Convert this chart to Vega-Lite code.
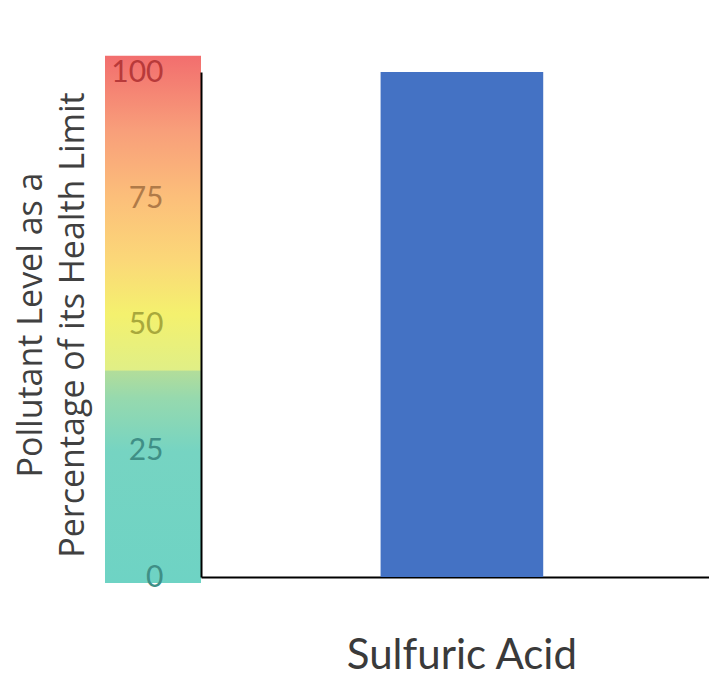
{
  "$schema": "https://vega.github.io/schema/vega-lite/v6.json",
  "background": "white",
  "padding": {"left": 13, "top": 55, "right": 0, "bottom": 0},
  "spacing": 0,
  "config": {
    "view": {"stroke": null},
    "font": "Lato",
    "axis": {"grid": false, "labelFont": "Lato", "titleFont": "Open Sans"}
  },
  "datasets": {
    "band": [{"lo": -1.2, "hi": 103.2}],
    "pollutants": [{"name": "Sulfuric Acid", "pct": 100}]
  },
  "hconcat": [
    {
      "width": 96,
      "height": 505,
      "data": {"name": "band"},
      "mark": {
        "type": "rect",
        "color": {
          "gradient": "linear",
          "x1": 0, "y1": 1, "x2": 0, "y2": 0,
          "stops": [
            {"offset": 0, "color": "#6ed3c4"},
            {"offset": 0.25, "color": "#76d4c2"},
            {"offset": 0.35, "color": "#96d9ae"},
            {"offset": 0.402, "color": "#b2dd9a"},
            {"offset": 0.404, "color": "#e0ef86"},
            {"offset": 0.51, "color": "#f4f16e"},
            {"offset": 0.61, "color": "#fbd878"},
            {"offset": 0.73, "color": "#fcbf7a"},
            {"offset": 0.86, "color": "#f89e7a"},
            {"offset": 1, "color": "#f26e6e"}
          ]
        }
      },
      "encoding": {
        "y": {
          "field": "lo",
          "type": "quantitative",
          "scale": {"domain": [0, 100], "nice": false},
          "axis": {
            "orient": "left",
            "zindex": 1,
            "values": [0, 25, 50, 75, 100],
            "domain": false,
            "ticks": false,
            "labelAlign": "right",
            "labelPadding": -58,
            "labelFontSize": 30,
            "labelColor": {
              "condition": [
                {"test": "datum.value == 100", "value": "#b83a3a"},
                {"test": "datum.value == 75", "value": "#b07a48"},
                {"test": "datum.value == 50", "value": "#a8a83c"}
              ],
              "value": "#3f8f86"
            },
            "title": ["Pollutant Level as a", "Percentage of its Health Limit"],
            "titleFontSize": 34,
            "titleFontWeight": "normal",
            "titleColor": "#404040",
            "titleLineHeight": 42,
            "titlePadding": 15
          }
        },
        "y2": {"field": "hi"}
      }
    },
    {
      "width": 508,
      "height": 505,
      "data": {"name": "pollutants"},
      "mark": {"type": "bar", "color": "#4472c4"},
      "encoding": {
        "x": {
          "field": "name",
          "type": "nominal",
          "scale": {"paddingInner": 0.515, "paddingOuter": 0.515, "align": 0.52},
          "axis": {
            "title": null,
            "labelAngle": 0,
            "labelLimit": 0,
            "labelDx": 21,
            "ticks": false,
            "domainColor": "#000000",
            "domainWidth": 2,
            "labelFontSize": 42,
            "labelColor": "#3a3a3a",
            "labelPadding": 58
          }
        },
        "y": {
          "field": "pct",
          "type": "quantitative",
          "scale": {"domain": [0, 100], "nice": false},
          "axis": {
            "title": null,
            "labels": false,
            "ticks": false,
            "domainColor": "#000000",
            "domainWidth": 2
          }
        }
      }
    }
  ]
}
